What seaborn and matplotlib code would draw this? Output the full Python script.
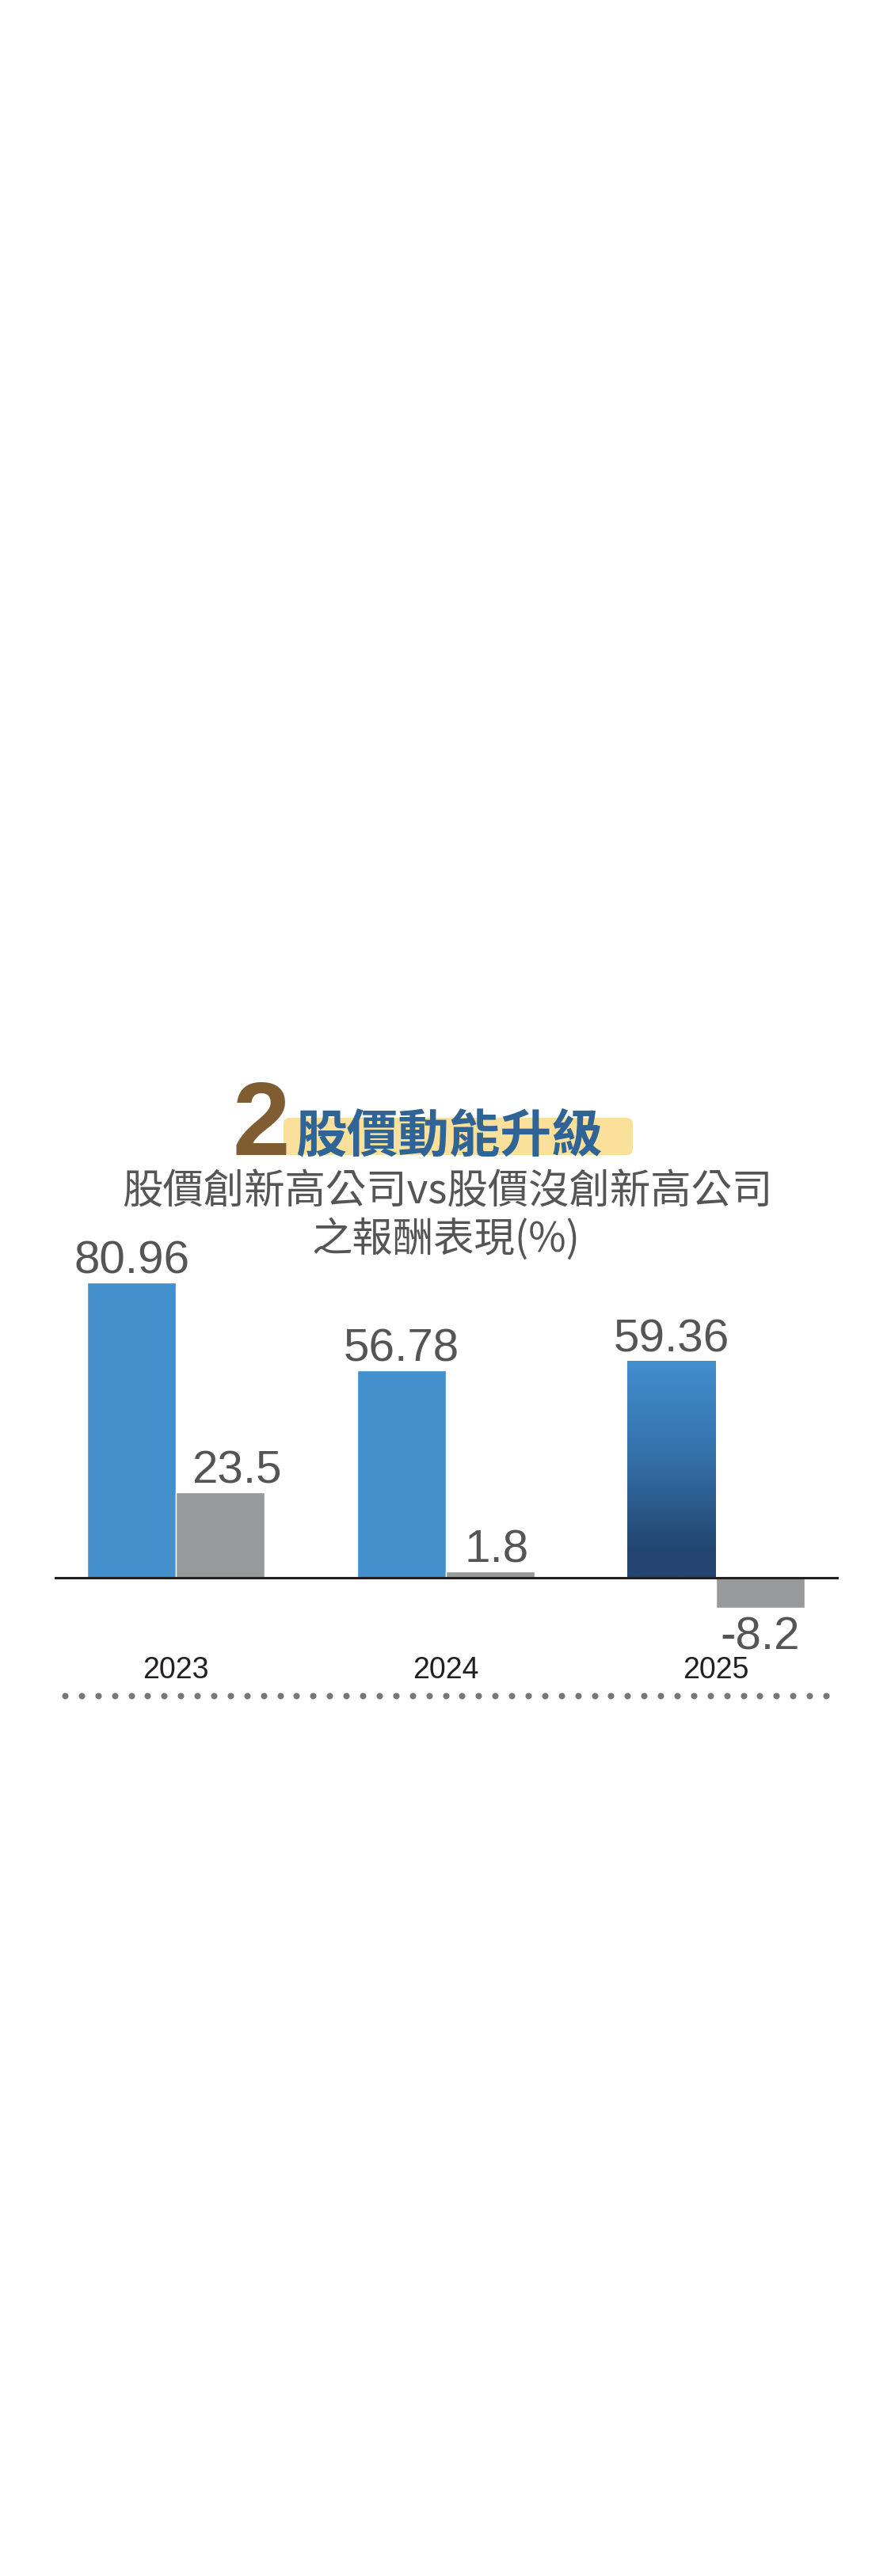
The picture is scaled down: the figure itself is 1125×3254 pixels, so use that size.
import numpy as np
import pandas as pd
import matplotlib
matplotlib.use("Agg")
import matplotlib.pyplot as plt
import seaborn as sns
from matplotlib.colors import LinearSegmentedColormap
from matplotlib.patches import FancyBboxPatch
from matplotlib.lines import Line2D
from matplotlib.transforms import IdentityTransform

# data
years = ["2023", "2024", "2025"]
groups = ["股價創新高公司", "股價沒創新高公司"]
new_high = [80.96, 56.78, 59.36]
no_new_high = [23.5, 1.8, -8.2]

title_no = "2"
title = "股價動能升級"
subtitle = ["股價創新高公司vs股價沒創新高公司", "之報酬表現(%)"]

BLUE = "#4490cc"
GRAY = "#98999b"
GRAD_TOP = "#428ecf"
GRAD_BOT = "#22446e"
TXT = "#555555"

W, H = 1125, 3255
DPI = 100


def fx(px):
    return np.asarray(px) / W


def fy(py):
    return 1 - np.asarray(py) / H


sns.set_theme(style="white")
plt.rcParams["font.family"] = ["Liberation Sans", "Noto Sans CJK TC", "DejaVu Sans"]

df = pd.DataFrame({
    "year": years * 2,
    "group": [groups[0]] * 3 + [groups[1]] * 3,
    "value": new_high + no_new_high,
})

fig = plt.figure(figsize=(W / DPI, H / DPI), dpi=DPI, facecolor="white")

# plot area: axis line spans x 69..1059, zero at y 1994
top_px, bot_px = 1600, 2060
ax = fig.add_axes([fx(69), fy(bot_px), fx(1059) - fx(69), (bot_px - top_px) / H])
sns.barplot(data=df, x="year", y="value", hue="group", palette=[BLUE, GRAY],
            width=0.657, saturation=1, errorbar=None, legend=False, ax=ax)

unit = 4.61  # px per percent
ylim = (-(bot_px - 1994) / unit, (1994 - top_px) / unit)
xlim = (-0.449, 2.455)
ax.axhline(0, color="#231f20", lw=2.2, zorder=5)

for s in ax.spines.values():
    s.set_visible(False)
ax.set_yticks([])
ax.set_xlabel("")
ax.set_ylabel("")
ax.tick_params(axis="x", length=0, pad=23, labelsize=27, labelcolor="#231f20")

# gradient for the 2025 "new high" bar
bars = list(ax.patches)
grad_cmap = LinearSegmentedColormap.from_list(
    "g", [(0, GRAD_BOT), (0.12, GRAD_BOT), (0.55, "#3470a8"), (1, GRAD_TOP)])
for p in bars:
    h = p.get_height()
    x0 = p.get_x()
    if abs(h - new_high[2]) < 1e-6:
        p.set_facecolor("none")
        p.set_edgecolor("none")
        grad = np.linspace(0, 1, 256).reshape(-1, 1)
        im = ax.imshow(grad, cmap=grad_cmap, origin="lower", aspect="auto",
                       extent=[x0, x0 + p.get_width(), 0, h], zorder=2)
        im.set_clip_path(p)

ax.set_ylim(*ylim)
ax.set_xlim(*xlim)

# value labels
nudge = {"23.5": 15, "1.8": 6}
for p in bars:
    h = p.get_height()
    if p.get_width() == 0:
        continue
    lab = f"{h:g}"
    cx = p.get_x() + p.get_width() / 2
    dy = 9 if h >= 0 else -37
    ax.annotate(lab, xy=(cx, h), xytext=(nudge.get(lab, 0), dy),
                textcoords="offset points", ha="center", va="baseline",
                fontsize=42, color=TXT, zorder=6)

# title block
fig.add_artist(FancyBboxPatch((358, H - 1460), 441, 47,
                              boxstyle="round,pad=0,rounding_size=8",
                              transform=IdentityTransform(),
                              facecolor="#fae09b", edgecolor="none", zorder=1))
fig.text(fx(294), fy(1459), title_no, ha="left", va="baseline", fontsize=94,
         fontweight="bold", color="#7f5c31", zorder=3)
fig.text(fx(373), fy(1454), title, ha="left", va="baseline", fontsize=46.5,
         fontweight="bold", color="#2f6496",
         family=["Noto Sans CJK TC", "DejaVu Sans"], zorder=3)
fig.text(fx(565), fy(1521), subtitle[0], ha="center", va="baseline", fontsize=37,
         color=TXT, family=["Noto Sans CJK TC", "DejaVu Sans"])
fig.text(fx(563), fy(1581), subtitle[1], ha="center", va="baseline", fontsize=37,
         color=TXT, family=["Noto Sans CJK TC", "DejaVu Sans"])

# dotted separator
dots_x = np.linspace(82, 1043, 47)
fig.add_artist(Line2D(fx(dots_x), fy(np.full_like(dots_x, 2143)),
                      transform=fig.transFigure, color="#777777", ls="none",
                      marker="o", ms=5.8, mec="none"))

fig.savefig("out.png", dpi=DPI, facecolor="white")
